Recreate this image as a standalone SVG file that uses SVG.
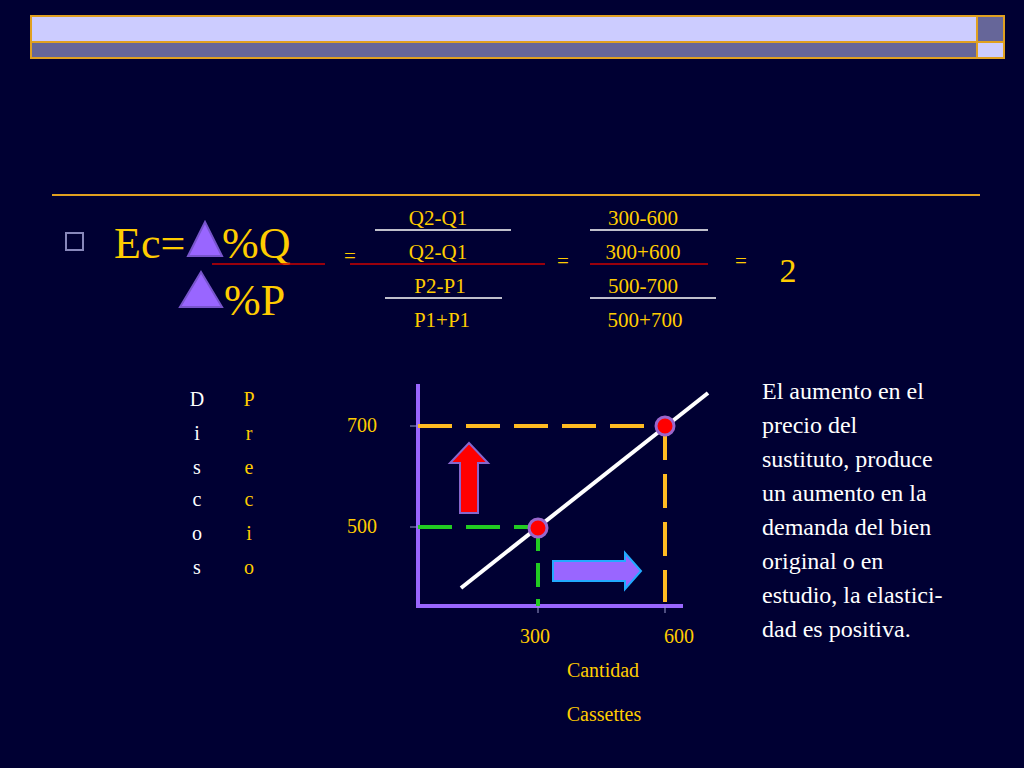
<svg xmlns="http://www.w3.org/2000/svg" width="1024" height="768" viewBox="0 0 1024 768">
<style>
text{font-family:"Liberation Serif","Times New Roman",serif}
.o{fill:#FFCC00}.w{fill:#fff}
.f{font-size:21px;text-anchor:middle;fill:#FFCC00}
.b{stroke:#E0A020;stroke-width:2}
</style>
<rect width="1024" height="768" fill="#000033"/>
<g id="header">
<rect x="31" y="16" width="946" height="26" fill="#CCCCFF" class="b"/>
<rect x="31" y="42" width="946" height="16" fill="#666699" class="b"/>
<rect x="977" y="16" width="27" height="26" fill="#666699" class="b"/>
<rect x="977" y="42" width="27" height="16" fill="#CCCCFF" class="b"/>
<line x1="52" y1="195" x2="980" y2="195" stroke="#E0A020" stroke-width="2"/>
</g>
<g id="formula">
<rect x="66" y="233" width="17" height="17" fill="none" stroke="#8888BB" stroke-width="2"/>
<text x="114" y="258" font-size="44" class="o">Ec=</text>
<polygon points="205,222 222,256 188,256" fill="#9966FF" stroke="#7755CC" stroke-width="2"/>
<text x="222" y="258" font-size="44" class="o">%Q</text>
<polygon points="201,272 222,307 180,307" fill="#9966FF" stroke="#7755CC" stroke-width="2"/>
<text x="224" y="315" font-size="44" class="o">%P</text>
<line x1="212" y1="264" x2="325" y2="264" stroke="#CC0000" stroke-width="1.5"/>
<text x="350" y="263" class="f">=</text>
<text x="438" y="225" class="f">Q2-Q1</text>
<line x1="375" y1="230" x2="511" y2="230" stroke="#fff" stroke-width="1.5"/>
<text x="438" y="259" class="f">Q2-Q1</text>
<line x1="350" y1="264" x2="545" y2="264" stroke="#CC0000" stroke-width="1.5"/>
<text x="440" y="293" class="f">P2-P1</text>
<line x1="385" y1="298" x2="502" y2="298" stroke="#fff" stroke-width="1.5"/>
<text x="442" y="327" class="f">P1+P1</text>
<text x="563" y="268" class="f">=</text>
<text x="643" y="225" class="f">300-600</text>
<line x1="590" y1="230" x2="708" y2="230" stroke="#fff" stroke-width="1.5"/>
<text x="643" y="259" class="f">300+600</text>
<line x1="590" y1="264" x2="708" y2="264" stroke="#CC0000" stroke-width="1.5"/>
<text x="643" y="293" class="f">500-700</text>
<line x1="590" y1="298" x2="716" y2="298" stroke="#fff" stroke-width="1.5"/>
<text x="645" y="327" class="f">500+700</text>
<text x="741" y="268" class="f">=</text>
<text x="788" y="282" font-size="34" text-anchor="middle" class="o">2</text>
</g>
<g id="axis-labels" font-size="20" text-anchor="middle">
<text x="197" y="406" class="w">D</text><text x="197" y="440" class="w">i</text><text x="197" y="474" class="w">s</text><text x="197" y="506" class="w">c</text><text x="197" y="540" class="w">o</text><text x="197" y="574" class="w">s</text>
<text x="249" y="406" class="o">P</text><text x="249" y="440" class="o">r</text><text x="249" y="474" class="o">e</text><text x="249" y="506" class="o">c</text><text x="249" y="540" class="o">i</text><text x="249" y="574" class="o">o</text>
<text x="362" y="432" class="o">700</text>
<text x="362" y="533" class="o">500</text>
<text x="535" y="643" class="o">300</text>
<text x="679" y="643" class="o">600</text>
<text x="603" y="677" class="o">Cantidad</text>
<text x="604" y="721" class="o">Cassettes</text>
</g>
<g id="chart">
<line x1="418" y1="384" x2="418" y2="606" stroke="#9966FF" stroke-width="4"/>
<line x1="416" y1="606" x2="683" y2="606" stroke="#9966FF" stroke-width="4"/>
<line x1="410" y1="426" x2="418" y2="426" stroke="#9999CC"/>
<line x1="410" y1="527" x2="418" y2="527" stroke="#9999CC"/>
<line x1="538" y1="606" x2="538" y2="613" stroke="#9999CC"/>
<line x1="665" y1="606" x2="665" y2="613" stroke="#9999CC"/>
<line x1="461" y1="588" x2="708" y2="393" stroke="#fff" stroke-width="4"/>
<g fill="none" stroke-width="4">
<line x1="418" y1="426" x2="665" y2="426" stroke="#FFBB22" stroke-dasharray="34,14"/>
<line x1="665" y1="426" x2="665" y2="602" stroke="#FFBB22" stroke-dasharray="34,14"/>
<line x1="418" y1="527" x2="538" y2="527" stroke="#22CC22" stroke-dasharray="34,14"/>
<line x1="538" y1="527" x2="538" y2="606" stroke="#22CC22" stroke-dasharray="24,12"/>
</g>
<circle cx="538" cy="528" r="9" fill="#FF0000" stroke="#9966CC" stroke-width="3"/>
<circle cx="665" cy="426" r="9" fill="#FF0000" stroke="#9966CC" stroke-width="3"/>
<polygon points="469,443 488,463 478,463 478,513 460,513 460,463 450,463" fill="#FF0000" stroke="#8866CC" stroke-width="2"/>
<polygon points="553,561 625,561 625,553 641,571 625,589 625,581 553,581" fill="#9966FF" stroke="#22AAFF" stroke-width="2"/>
</g>
<g id="note" font-size="24" class="w">
<text x="762" y="399" class="w">El aumento en el</text>
<text x="762" y="433" class="w">precio del</text>
<text x="762" y="467" class="w">sustituto, produce</text>
<text x="762" y="501" class="w">un aumento en la</text>
<text x="762" y="535" class="w">demanda del bien</text>
<text x="762" y="569" class="w">original o en</text>
<text x="762" y="603" class="w">estudio, la elastici-</text>
<text x="762" y="637" class="w">dad es positiva.</text>
</g>
</svg>
